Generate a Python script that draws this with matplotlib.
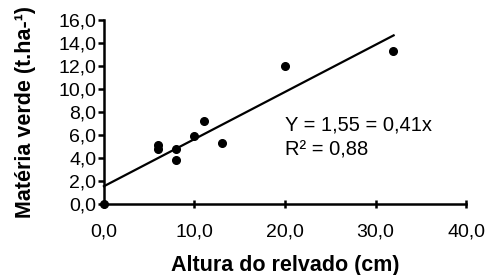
import matplotlib
matplotlib.use("Agg")
import matplotlib.pyplot as plt

plt.rcParams['font.family'] = ['Liberation Sans', 'DejaVu Sans']

altura = [0.0, 6.0, 6.0, 8.0, 8.0, 9.9, 11.0, 13.0, 20.0, 31.9]
materia = [0.0, 5.1, 4.8, 4.8, 3.8, 5.95, 7.2, 5.3, 12.0, 13.35]
intercept = 1.55
slope = 0.41
line_x = [0.0, 32.0]
x_ticks = [0, 10, 20, 30, 40]
x_labels = ['0,0', '10,0', '20,0', '30,0', '40,0']
y_ticks = [0, 2, 4, 6, 8, 10, 12, 14, 16]
y_labels = ['0,0', '2,0', '4,0', '6,0', '8,0', '10,0', '12,0', '14,0', '16,0']

fig = plt.figure(figsize=(4.88, 2.75), dpi=100)
ax = fig.add_axes([0.213, 0.258, 0.742, 0.669])

ax.plot(altura, materia, 'o', color='black', markersize=5.5, clip_on=False, zorder=3)
line_y = [intercept + slope * v for v in line_x]
ax.plot(line_x, line_y, color='black', linewidth=1.6, clip_on=False)

ax.set_xlim(0, 40)
ax.set_ylim(0, 16)
ax.set_xticks(x_ticks)
ax.set_xticklabels(x_labels)
ax.set_yticks(y_ticks)
ax.set_yticklabels(y_labels)

for s in ['top', 'right']:
    ax.spines[s].set_visible(False)
for s in ['left', 'bottom']:
    ax.spines[s].set_linewidth(1.8)

ax.tick_params(axis='y', direction='out', length=4, width=1.8, labelsize=14, pad=1.5)
ax.tick_params(axis='x', direction='inout', length=6, width=1.8, labelsize=14, pad=11)

ax.set_xlabel('Altura do relvado (cm)', fontsize=15.5, fontweight='bold', labelpad=10.5)
ax.set_ylabel('Matéria verde (t.ha-¹)', fontsize=15.5, fontweight='bold', labelpad=16)

ax.text(20.0, 6.9, 'Y = 1,55 = 0,41x', fontsize=14.5, va='center', ha='left')
ax.text(20.0, 4.7, 'R² = 0,88', fontsize=14.5, va='center', ha='left')

fig.savefig('out.png', dpi=100)
